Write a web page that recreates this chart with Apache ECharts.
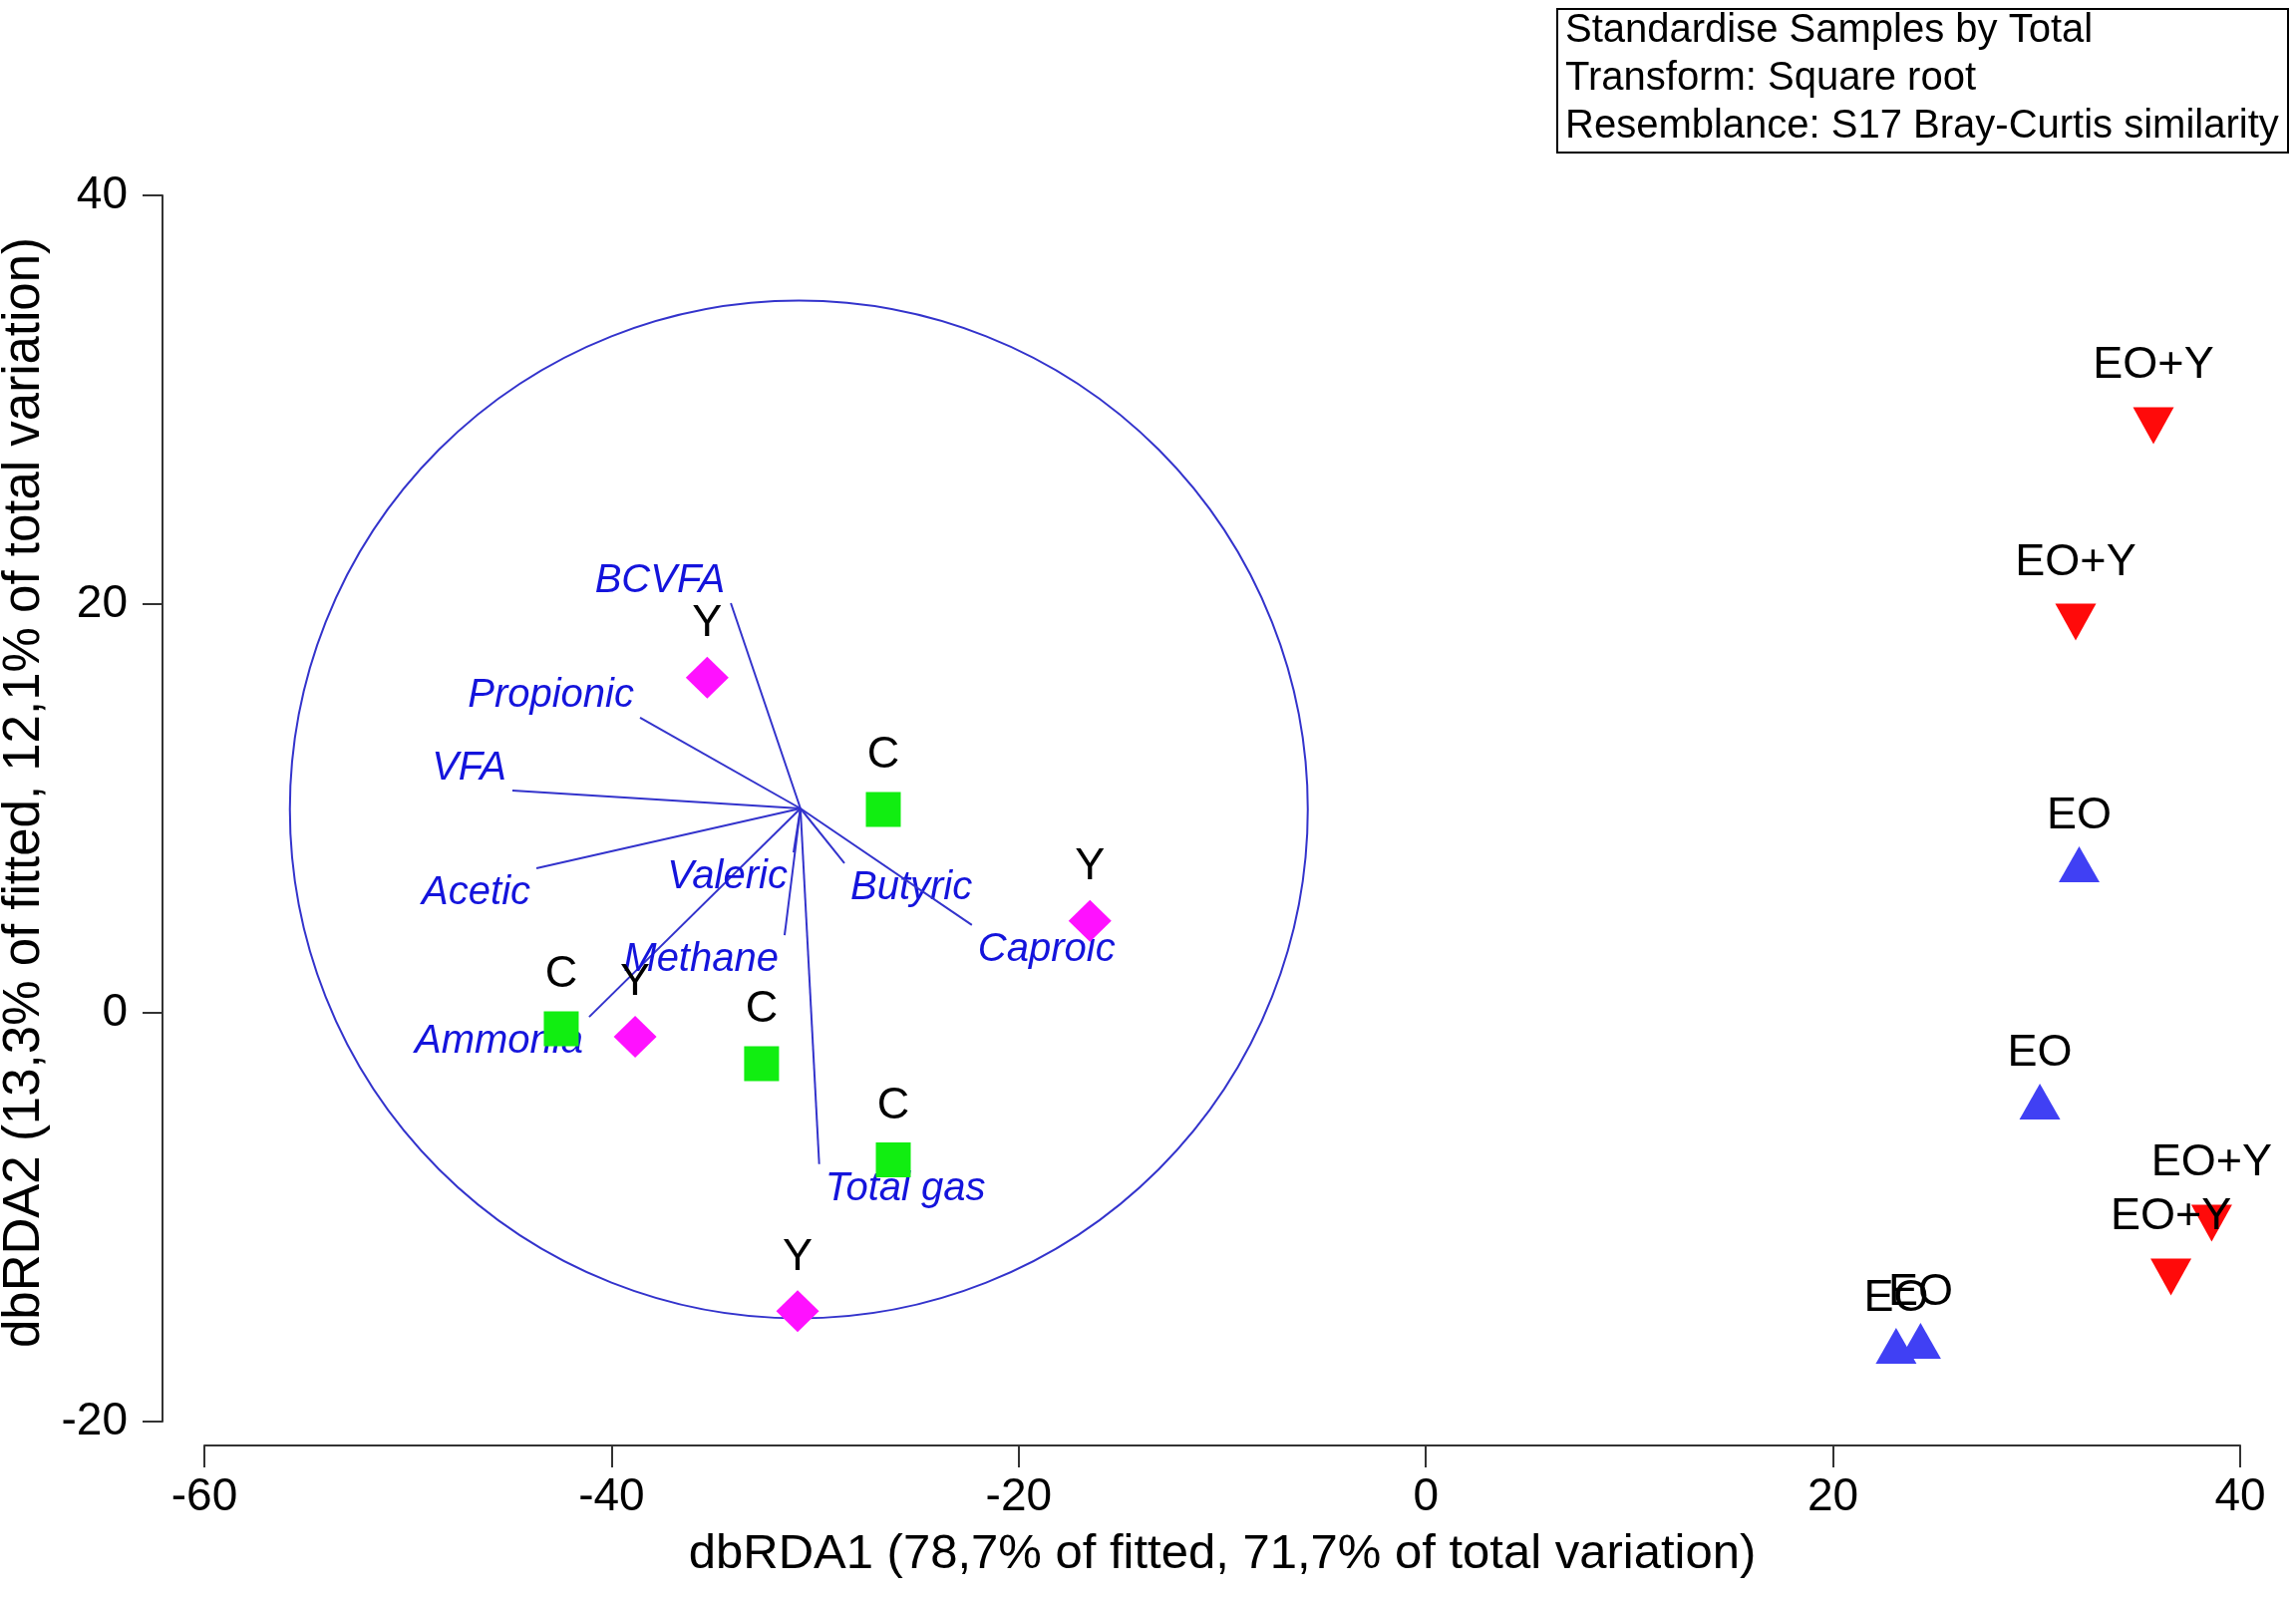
<!DOCTYPE html>
<html lang="en">
<head>
<meta charset="UTF-8">
<title>dbRDA biplot</title>
<script src="https://cdn.jsdelivr.net/npm/echarts@6/dist/echarts.min.js"></script>
<style>
html,body{margin:0;padding:0;background:#fff;}
#main{width:2303px;height:1604px;}
</style>
</head>
<body>
<div id="main"></div>
<script type="text/javascript">
var FONT = '"Liberation Sans", Arial, sans-serif';

// axis ranges / ticks
var xMin = -60, xMax = 40, xStep = 20;
var yMin = -20, yMax = 40, yStep = 20;
var xName = 'dbRDA1 (78,7% of fitted, 71,7% of total variation)';
var yName = 'dbRDA2 (13,3% of fitted, 12,1% of total variation)';

// samples (triangles: centroid position)
var cX = [-26.65, -42.47, -32.63, -26.16];
var cY = [9.95, -0.78, -2.49, -7.2];
var yX = [-35.3, -16.5, -38.84, -30.86];
var yY = [16.4, 4.5, -1.17, -14.6];
var eoX = [32.09, 30.16, 23.1, 24.3];
var eoY = [6.98, -4.63, -16.59, -16.34];
var eoyX = [35.74, 31.92, 38.6, 36.6];
var eoyY = [29.02, 19.41, -10.0, -12.63];

// biplot vectors
var vecOrigin = [-30.72, 10.0];
var vecNames = ['BCVFA', 'Propionic', 'VFA', 'Acetic', 'Ammonia', 'Valeric', 'Methane', 'Total gas', 'Butyric', 'Caproic'];
var vecX = [-34.14, -38.6, -44.87, -43.69, -41.1, -31.06, -31.5, -29.8, -28.56, -22.3];
var vecY = [20.05, 14.44, 10.88, 7.07, -0.2, 7.85, 3.8, -7.4, 7.32, 4.3];
var circle = [-30.8, 9.95, 25];

var noteLines = ['Standardise Samples by Total', 'Transform: Square root', 'Resemblance: S17 Bray-Curtis similarity'];

function pts(xs, ys) {
    return xs.map(function (x, i) { return [x, ys[i]]; });
}

var blue = '#3333cc';
var chart = echarts.init(document.getElementById('main'));

var axisLine = { onZero: false, lineStyle: { color: '#333', width: 2 } };
var tickStyle = { color: '#333', width: 2 };
var ptLabel = { show: true, position: 'inside', fontSize: 45, color: '#000', fontFamily: FONT };

var option = {
    animation: false,
    backgroundColor: '#fff',
    textStyle: { fontFamily: FONT },
    grid: { left: 205, right: 56, top: 196, bottom: 178, outerBoundsMode: 'none', containLabel: false },
    xAxis: {
        type: 'value', min: xMin, max: xMax, interval: xStep, offset: 24,
        axisLine: axisLine,
        axisTick: { show: true, length: 22, lineStyle: tickStyle },
        axisLabel: { fontSize: 46, color: '#000', margin: 29, fontFamily: FONT },
        splitLine: { show: false },
        name: xName, nameLocation: 'middle', nameGap: 85,
        nameTextStyle: { fontSize: 49, color: '#000', fontFamily: FONT }
    },
    yAxis: {
        type: 'value', min: yMin, max: yMax, interval: yStep, offset: 42,
        axisLine: axisLine,
        axisTick: { show: true, length: 20, lineStyle: tickStyle },
        axisLabel: { fontSize: 46, color: '#000', margin: 35, fontFamily: FONT },
        splitLine: { show: false },
        name: yName, nameLocation: 'middle', nameGap: 110,
        nameTextStyle: { fontSize: 51, color: '#000', fontFamily: FONT, padding: [0, 0, 0, 32] }
    },
    graphic: [{
        type: 'group', left: 1561, top: 7,
        children: [
            { type: 'rect', shape: { x: 0, y: 0, width: 733, height: 144 },
              style: { fill: '#fff', stroke: '#000', lineWidth: 2 } },
            { type: 'text', x: 8, y: -2,
              style: { text: noteLines.join('\n'), font: '40px ' + FONT, lineHeight: 48,
                       fill: '#000', verticalAlign: 'top' } }
        ]
    }],
    series: [
        {
            type: 'custom', name: 'circle', z: 1, silent: true,
            renderItem: function (params, api) {
                var c = api.coord([api.value(0), api.value(1)]);
                var r = api.size([api.value(2), 0])[0];
                return { type: 'circle', shape: { cx: c[0], cy: c[1], r: r },
                         style: { fill: 'none', stroke: blue, lineWidth: 2 } };
            },
            data: [circle]
        },
        {
            type: 'custom', name: 'vectors', z: 2, silent: true,
            renderItem: function (params, api) {
                var o = api.coord([api.value(0), api.value(1)]);
                var t = api.coord([api.value(2), api.value(3)]);
                var right = t[0] >= o[0];
                var up = t[1] <= o[1];
                return {
                    type: 'group',
                    children: [
                        { type: 'line', shape: { x1: o[0], y1: o[1], x2: t[0], y2: t[1] },
                          style: { stroke: blue, lineWidth: 2 } },
                        { type: 'text', x: t[0] + (right ? 6 : -6), y: t[1] + (up ? -2 : 5),
                          style: { text: vecNames[params.dataIndex], font: 'italic 40px ' + FONT,
                                   fill: '#1414dc', align: right ? 'left' : 'right',
                                   verticalAlign: up ? 'bottom' : 'top' } }
                    ]
                };
            },
            encode: { x: [0, 2], y: [1, 3] },
            data: vecNames.map(function (n, i) { return [vecOrigin[0], vecOrigin[1], vecX[i], vecY[i]]; })
        },
        {
            type: 'scatter', name: 'C', z: 3, data: pts(cX, cY),
            symbol: 'rect', symbolSize: 35, itemStyle: { color: '#11ee11', opacity: 1 },
            label: Object.assign({ formatter: 'C', offset: [0, -54] }, ptLabel)
        },
        {
            type: 'scatter', name: 'Y', z: 3, data: pts(yX, yY),
            symbol: 'diamond', symbolSize: [43, 42], itemStyle: { color: '#ff11ff', opacity: 1 },
            label: Object.assign({ formatter: 'Y', offset: [0, -54] }, ptLabel)
        },
        {
            type: 'scatter', name: 'EO', z: 3, data: pts(eoX, eoY),
            symbol: 'triangle', symbolSize: [41, 36], symbolOffset: [0, -6],
            itemStyle: { color: '#4040f4', opacity: 1 },
            label: Object.assign({ formatter: 'EO', offset: [0, -48] }, ptLabel)
        },
        {
            type: 'scatter', name: 'EO+Y', z: 3, data: pts(eoyX, eoyY),
            symbol: 'path://M0,0L2,0L1,2Z', symbolSize: [41, 37], symbolOffset: [0, 6],
            itemStyle: { color: '#ff0a0a', opacity: 1 },
            label: Object.assign({ formatter: 'EO+Y', offset: [0, -60] }, ptLabel)
        }
    ]
};
chart.setOption(option);
</script>
</body>
</html>
